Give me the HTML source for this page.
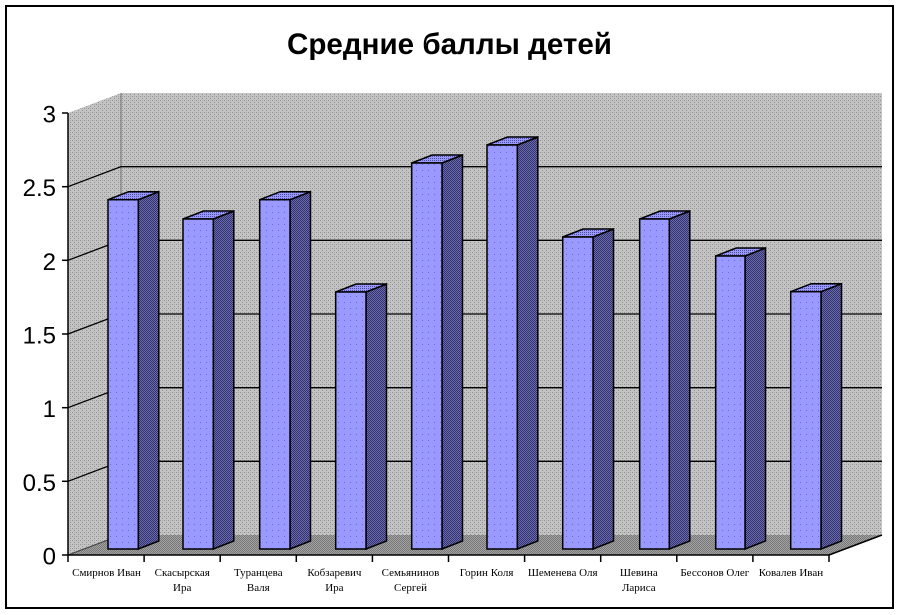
<!DOCTYPE html>
<html>
<head>
<meta charset="utf-8">
<style>
  html,body{margin:0;padding:0;background:#fff;}
  svg{display:block;}
  .lab{font-family:"Liberation Serif","Noto Serif CJK SC",serif;font-size:11px;fill:#000;}
  .tick{font-family:"Liberation Sans",sans-serif;font-size:24px;fill:#000;}
</style>
</head>
<body>
<svg width="900" height="615" viewBox="0 0 900 615" xmlns="http://www.w3.org/2000/svg">
  <defs>
    <pattern id="wall" width="4" height="4" patternUnits="userSpaceOnUse">
      <rect width="4" height="4" fill="#c4c4c4"/>
      <rect x="0" y="0" width="1" height="1" fill="#8f8f8f"/>
      <rect x="2" y="2" width="1" height="1" fill="#8f8f8f"/>
      <rect x="2" y="0" width="1" height="1" fill="#a8a8a8"/>
    </pattern>
    <pattern id="floor" width="2" height="2" patternUnits="userSpaceOnUse">
      <rect width="2" height="2" fill="#a2a2a2"/>
      <rect x="0" y="0" width="1" height="1" fill="#787878"/>
      <rect x="1" y="1" width="1" height="1" fill="#787878"/>
    </pattern>
    <pattern id="side" width="2" height="2" patternUnits="userSpaceOnUse">
      <rect width="2" height="2" fill="#6a6ab4"/>
      <rect x="0" y="0" width="1" height="1" fill="#333366"/>
      <rect x="1" y="1" width="1" height="1" fill="#333366"/>
    </pattern>
    <pattern id="top" width="2" height="2" patternUnits="userSpaceOnUse">
      <rect width="2" height="2" fill="#9999ff"/>
      <rect x="0" y="0" width="1" height="1" fill="#4d4d99"/>
    </pattern>
    <pattern id="front" width="6" height="6" patternUnits="userSpaceOnUse">
      <rect width="6" height="6" fill="#9999ff"/>
      <rect x="2" y="2" width="1" height="1" fill="#6a6ad2"/>
    </pattern>
  </defs>

  <rect x="0" y="0" width="900" height="615" fill="#fff"/>
  <rect x="6" y="6" width="887" height="602" fill="#fff" stroke="#000" stroke-width="2"/>

  <text x="449.5" y="54" text-anchor="middle" font-family="Liberation Sans, sans-serif" font-weight="bold" font-size="30" textLength="325" lengthAdjust="spacingAndGlyphs">Средние баллы детей</text>

  <polygon points="68,113 121,93 121,535 68,555" fill="url(#wall)"/>
  <rect x="121" y="93" width="761" height="442" fill="url(#wall)"/>
  <line x1="121" y1="93" x2="121" y2="535" stroke="#707070" stroke-width="1"/>

  <g stroke="#000" stroke-width="1.3" fill="none">
    <polyline points="68,186.7 121,166.7 882,166.7"/>
    <polyline points="68,260.3 121,240.3 882,240.3"/>
    <polyline points="68,334 121,314 882,314"/>
    <polyline points="68,407.7 121,387.7 882,387.7"/>
    <polyline points="68,481.3 121,461.3 882,461.3"/>
  </g>

  <polygon points="68,555 121,535 882,535 829,555" fill="url(#floor)"/>
  <line x1="68" y1="555" x2="121" y2="535" stroke="#404040" stroke-width="1"/>
  <line x1="829" y1="555" x2="882" y2="535" stroke="#000" stroke-width="1.5"/>

  <g stroke="#000" stroke-width="1.5" stroke-linejoin="miter">
    <polygon points="138.3,199.7 158.8,191.7 158.8,541 138.3,549" fill="url(#side)"/>
    <polygon points="108,199.7 128.5,191.7 158.8,191.7 138.3,199.7" fill="url(#top)"/>
    <rect x="108" y="199.7" width="30.3" height="349.3" fill="url(#front)"/>

    <polygon points="213.3,219 233.8,211 233.8,541 213.3,549" fill="url(#side)"/>
    <polygon points="183,219 203.5,211 233.8,211 213.3,219" fill="url(#top)"/>
    <rect x="183" y="219" width="30.3" height="330" fill="url(#front)"/>

    <polygon points="290,199.7 310.5,191.7 310.5,541 290,549" fill="url(#side)"/>
    <polygon points="259.7,199.7 280.2,191.7 310.5,191.7 290,199.7" fill="url(#top)"/>
    <rect x="259.7" y="199.7" width="30.3" height="349.3" fill="url(#front)"/>

    <polygon points="366,292 386.5,284 386.5,541 366,549" fill="url(#side)"/>
    <polygon points="335.7,292 356.2,284 386.5,284 366,292" fill="url(#top)"/>
    <rect x="335.7" y="292" width="30.3" height="257" fill="url(#front)"/>

    <polygon points="442,163 462.5,155 462.5,541 442,549" fill="url(#side)"/>
    <polygon points="411.7,163 432.2,155 462.5,155 442,163" fill="url(#top)"/>
    <rect x="411.7" y="163" width="30.3" height="386" fill="url(#front)"/>

    <polygon points="517.3,145 537.8,137 537.8,541 517.3,549" fill="url(#side)"/>
    <polygon points="487,145 507.5,137 537.8,137 517.3,145" fill="url(#top)"/>
    <rect x="487" y="145" width="30.3" height="404" fill="url(#front)"/>

    <polygon points="593,237 613.5,229 613.5,541 593,549" fill="url(#side)"/>
    <polygon points="562.7,237 583.2,229 613.5,229 593,237" fill="url(#top)"/>
    <rect x="562.7" y="237" width="30.3" height="312" fill="url(#front)"/>

    <polygon points="669.3,219 689.8,211 689.8,541 669.3,549" fill="url(#side)"/>
    <polygon points="639.7,219 660.2,211 689.8,211 669.3,219" fill="url(#top)"/>
    <rect x="639.7" y="219" width="29.6" height="330" fill="url(#front)"/>

    <polygon points="745,256 765.5,248 765.5,541 745,549" fill="url(#side)"/>
    <polygon points="715.7,256 736.2,248 765.5,248 745,256" fill="url(#top)"/>
    <rect x="715.7" y="256" width="29.3" height="293" fill="url(#front)"/>

    <polygon points="821,291.7 841.5,283.7 841.5,541 821,549" fill="url(#side)"/>
    <polygon points="790.7,291.7 811.2,283.7 841.5,283.7 821,291.7" fill="url(#top)"/>
    <rect x="790.7" y="291.7" width="30.3" height="257.3" fill="url(#front)"/>
  </g>

  <g stroke="#000" stroke-width="1.5" fill="none">
    <line x1="68" y1="113" x2="68" y2="555.7"/>
    <line x1="67.3" y1="555" x2="829" y2="555"/>
    <line x1="62" y1="113" x2="68" y2="113"/>
    <line x1="62" y1="186.7" x2="68" y2="186.7"/>
    <line x1="62" y1="260.3" x2="68" y2="260.3"/>
    <line x1="62" y1="334" x2="68" y2="334"/>
    <line x1="62" y1="407.7" x2="68" y2="407.7"/>
    <line x1="62" y1="481.3" x2="68" y2="481.3"/>
    <line x1="62" y1="555" x2="68" y2="555"/>
    <line x1="68" y1="555" x2="68" y2="562"/>
    <line x1="144.1" y1="555" x2="144.1" y2="562"/>
    <line x1="220.2" y1="555" x2="220.2" y2="562"/>
    <line x1="296.3" y1="555" x2="296.3" y2="562"/>
    <line x1="372.4" y1="555" x2="372.4" y2="562"/>
    <line x1="448.5" y1="555" x2="448.5" y2="562"/>
    <line x1="524.6" y1="555" x2="524.6" y2="562"/>
    <line x1="600.7" y1="555" x2="600.7" y2="562"/>
    <line x1="676.8" y1="555" x2="676.8" y2="562"/>
    <line x1="752.9" y1="555" x2="752.9" y2="562"/>
    <line x1="829" y1="555" x2="829" y2="562"/>
  </g>

  <g class="tick" text-anchor="end">
    <text x="56" y="122.5">3</text>
    <text x="56" y="196.2">2.5</text>
    <text x="56" y="269.8">2</text>
    <text x="56" y="343.5">1.5</text>
    <text x="56" y="417.2">1</text>
    <text x="56" y="490.8">0.5</text>
    <text x="56" y="564.5">0</text>
  </g>

  <g class="lab" text-anchor="middle">
    <text x="106.5" y="576">Смирнов Иван</text>
    <text x="182.2" y="576">Скасырская</text>
    <text x="182.2" y="591">Ира</text>
    <text x="258.3" y="576">Туранцева</text>
    <text x="258.3" y="591">Валя</text>
    <text x="334.4" y="576">Кобзаревич</text>
    <text x="334.4" y="591">Ира</text>
    <text x="410.5" y="576">Семьянинов</text>
    <text x="410.5" y="591">Сергей</text>
    <text x="486.6" y="576">Горин Коля</text>
    <text x="562.7" y="576">Шеменева Оля</text>
    <text x="638.8" y="576">Шевина</text>
    <text x="638.8" y="591">Лариса</text>
    <text x="714.8" y="576">Бессонов Олег</text>
    <text x="790.9" y="576">Ковалев Иван</text>
  </g>
</svg>
</body>
</html>
